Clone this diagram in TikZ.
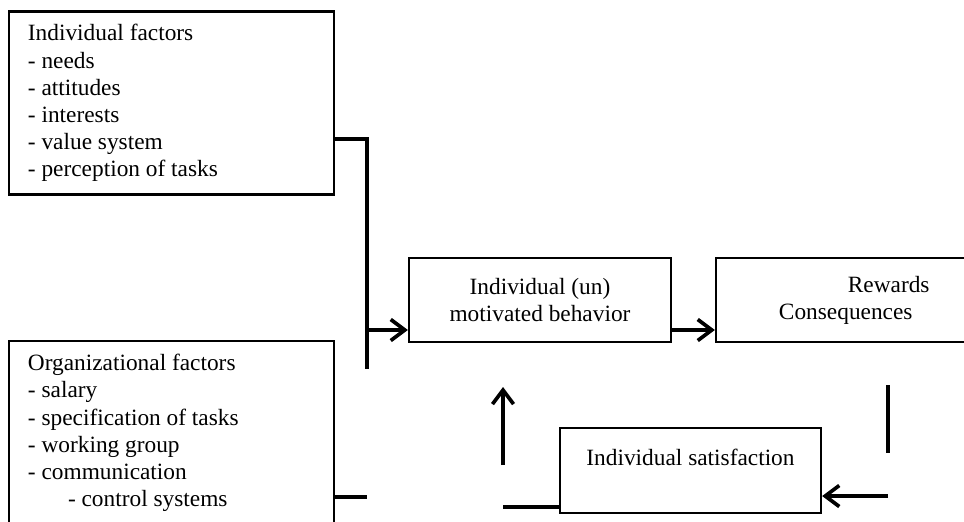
\documentclass[tikz,border=0pt]{standalone}
\usepackage{fontspec}
\setmainfont{Liberation Serif}
\usetikzlibrary{arrows.meta}

\begin{document}
\begin{tikzpicture}[x=0.025cm, y=-0.025cm,
  box/.style={draw, line width=1.6pt, inner sep=0pt, font=\fontsize{16.6}{19.3}\selectfont},
  conn/.style={line width=2.6pt},
  arr/.style={conn, -{Straight Barb[length=10pt, width=15pt]}}]

\clip (0,0) rectangle (964,521);

% boxes
\node[box, minimum width=8.125cm, minimum height=4.575cm, text width=7.175cm, align=flush left] (indiv) at (171.5,103)
  {Individual factors\\- needs\\- attitudes\\- interests\\- value system\\- perception of tasks};
\node[box, minimum width=8.125cm, minimum height=4.6cm, text width=7.175cm, align=flush left] (org) at (171.5,433)
  {Organizational factors\\- salary\\- specification of tasks\\- working group\\- communication\\\hspace*{28.5pt}- control systems};
\node[box, minimum width=6.55cm, minimum height=2.1cm, align=center] (behav) at (540,300)
  {Individual (un)\\motivated behavior};
\node[box, minimum width=7.15cm, minimum height=2.1cm, text width=4cm, align=flush left] (rew) at (859,300)
  {\hspace*{49pt}Rewards\\Consequences};
\node[box, minimum width=6.525cm, minimum height=2.125cm, align=center] (sat) at (690.5,470.5)
  {Individual satisfaction\\~};

% free ends
\coordinate (jtop) at (367,139);
\coordinate (jend) at (367,369);
\coordinate (jmid) at (367,330);
\coordinate (jbot) at (367,497);
\coordinate (rtop) at (888,385);
\coordinate (rbot) at (888,453);
\coordinate (rin) at (888,496);
\coordinate (lout) at (503,507);
\coordinate (upfoot) at (503,465);
\coordinate (uptip) at (503,387);

% connectors
\draw[conn] (indiv.east |- jtop) -- (jtop) -- (jend);
\draw[arr] (jmid) -- (behav.west |- jmid);
\draw[conn] (org.east |- jbot) -- (jbot);
\draw[arr] (behav.east |- jmid) -- (rew.west |- jmid);
\draw[conn] (rtop) -- (rbot);
\draw[arr] (rin) -- (sat.east |- rin);
\draw[conn] (sat.west |- lout) -- (lout);
\draw[arr] (upfoot) -- (uptip);

\end{tikzpicture}
\end{document}
